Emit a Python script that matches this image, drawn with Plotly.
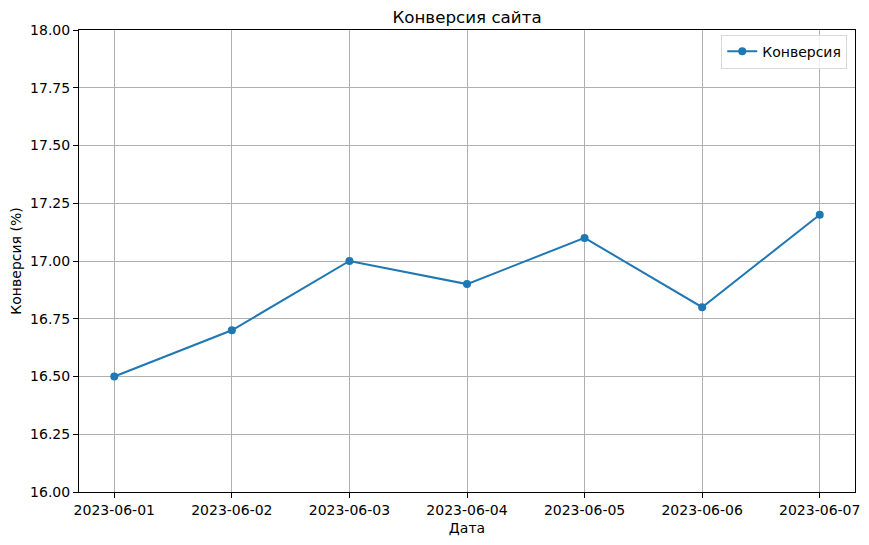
import plotly.graph_objects as go

dates = ["2023-06-01", "2023-06-02", "2023-06-03", "2023-06-04",
         "2023-06-05", "2023-06-06", "2023-06-07"]
conversion = [16.5, 16.7, 17.0, 16.9, 17.1, 16.8, 17.2]
y_ticks = [16.0, 16.25, 16.5, 16.75, 17.0, 17.25, 17.5, 17.75, 18.0]

BLUE = "#1f77b4"
FONT = "DejaVu Sans, sans-serif"

# the page body has an 8px margin, so the figure is 8px smaller each way
W, H = 861, 537

fig = go.Figure()
fig.add_trace(
    go.Scatter(
        x=list(range(len(dates))),
        y=conversion,
        mode="lines+markers",
        name="Конверсия",
        line=dict(color=BLUE, width=2),
        marker=dict(color=BLUE, size=8),
    )
)

fig.update_layout(
    width=W,
    height=H,
    margin=dict(l=71, r=14, t=22, b=53),
    paper_bgcolor="white",
    plot_bgcolor="white",
    font=dict(family=FONT, size=14, color="black"),
    title=dict(text="Конверсия сайта", x=0.5, xref="paper", xanchor="center",
               y=1 - 9 / H, yanchor="middle", font=dict(size=16.7)),
    showlegend=True,
    legend=dict(
        x=0.99, y=0.99, xanchor="right", yanchor="top",
        bgcolor="rgba(255,255,255,0.8)", bordercolor="#d9d9d9", borderwidth=1,
        font=dict(size=14),
    ),
)

fig.update_xaxes(
    range=[-0.3, len(dates) - 0.7],
    tickmode="array",
    tickvals=list(range(len(dates))),
    ticktext=dates,
    showgrid=True, gridcolor="#b0b0b0", gridwidth=0.8,
    showline=True, linecolor="black", linewidth=1, mirror=True,
    ticks="outside", ticklen=5, tickcolor="black",
    zeroline=False, automargin=False,
    title=dict(text="Дата", standoff=6, font=dict(size=14)),
)
fig.update_yaxes(
    range=[16, 18],
    tickmode="array",
    tickvals=y_ticks,
    ticktext=[f"{v:.2f}" for v in y_ticks],
    showgrid=True, gridcolor="#b0b0b0", gridwidth=0.8,
    showline=True, linecolor="black", linewidth=1, mirror=True,
    ticks="outside", ticklen=5, tickcolor="black",
    zeroline=False, automargin=False,
    title=dict(text="Конверсия (%)", standoff=8, font=dict(size=14)),
)

fig.write_html("out.html")
